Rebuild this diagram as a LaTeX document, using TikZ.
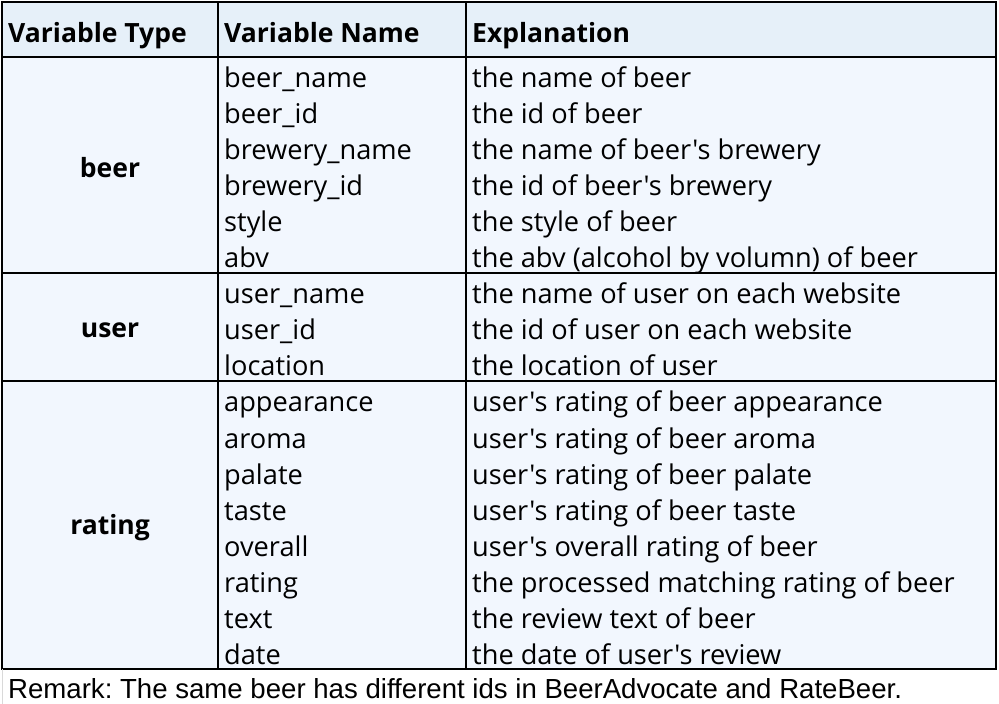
\documentclass[tikz,border=0pt]{standalone}
\usepackage{fontspec}
\newfontfamily\cellfont{Open Sans}
\newfontfamily\remfont{Liberation Sans}
\newcommand\ap{\char39\relax}
\definecolor{headfill}{HTML}{E6F0F9}
\definecolor{bodyfill}{HTML}{F2F7FE}
\definecolor{faint}{HTML}{D9D9D9}
\frenchspacing
\begin{document}
\begin{tikzpicture}[x=1pt,y=-1pt,
  cell/.style={anchor=base west,inner sep=0pt,font=\cellfont\fontsize{27.2}{31}\selectfont},
  headcell/.style={cell,font=\cellfont\fontsize{26.5}{30}\selectfont\bfseries},
  group/.style={anchor=center,inner sep=0pt,font=\cellfont\fontsize{26.5}{30}\selectfont\bfseries},
  grid/.style={line width=1.3pt,black}]
\useasboundingbox (0,0) rectangle (999,704);
\fill[white] (0,0) rectangle (999,704);
\fill[headfill] (2,2) rectangle (996,57);
\fill[bodyfill] (2,57) rectangle (996,669);
% grid
\draw[grid] (2,2) rectangle (996,669);
\draw[grid] (2,57) -- (996,57);
\draw[grid] (2,273) -- (996,273);
\draw[grid] (2,381) -- (996,381);
\draw[grid] (218,2) -- (218,669);
\draw[grid] (466,2) -- (466,669);
\draw[faint,line width=0.8pt] (2,669) -- (2,704);
% header
\node[headcell] (h1) at (8,42) {Variable Type};
\node[headcell] (h2) at (224,42) {Variable Name};
\node[headcell] (h3) at (472,42) {Explanation};
% groups
\node[group] (gbeer) at (110,168) {beer};
\node[group] (guser) at (110,330) {user};
\node[group] (grating) at (110,528) {rating};
% rows
\foreach \n/\e [count=\i from 0] in {
  beer\_name/the name of beer,
  beer\_id/the id of beer,
  brewery\_name/the name of beer\ap s brewery,
  brewery\_id/the id of beer\ap s brewery,
  style/the style of beer,
  abv/the abv (alcohol by volumn) of beer,
  user\_name/the name of user on each website,
  user\_id/the id of user on each website,
  location/the location of user,
  appearance/user\ap s rating of beer appearance,
  aroma/user\ap s rating of beer aroma,
  palate/user\ap s rating of beer palate,
  taste/user\ap s rating of beer taste,
  overall/user\ap s overall rating of beer,
  rating/the processed matching rating of beer,
  text/the review text of beer,
  date/the date of user\ap s review}{
  \node[cell] (n\i) at (224,{87.5+36.05*\i}) {\n};
  \node[cell] (e\i) at (472,{87.5+36.05*\i}) {\e};
}
\node[anchor=base west,inner sep=0pt,font=\remfont\fontsize{27.6}{31}\selectfont] (remark) at (8,698) {Remark: The same beer has different ids in BeerAdvocate and RateBeer.};
\end{tikzpicture}
\end{document}
